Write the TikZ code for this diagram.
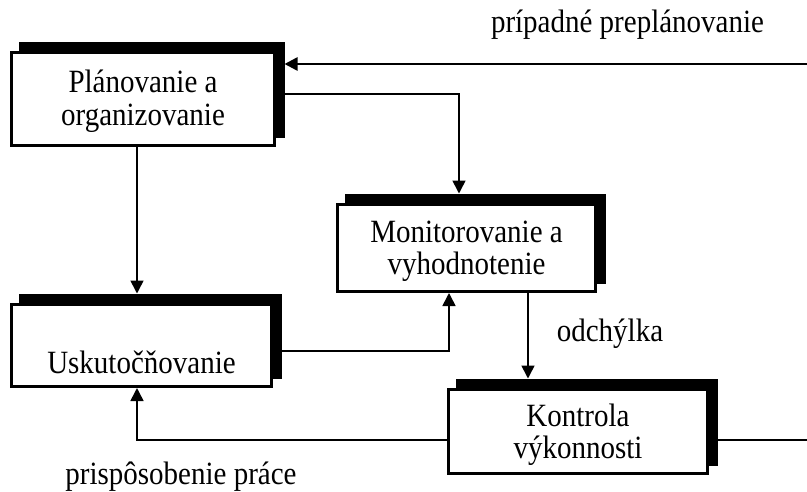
\documentclass[tikz,border=0pt]{standalone}
\usepackage{graphicx}
\usepackage{fontspec}
\setmainfont{Liberation Serif}
\usetikzlibrary{arrows.meta,shadows}
\newcommand{\vst}[1]{\strut\scalebox{1}[1.12]{#1}}
\begin{document}
\begin{tikzpicture}[x=1pt,y=-1pt,
  box/.style={draw, line width=3pt, fill=white, inner sep=0pt, outer sep=0pt,
    drop shadow={shadow xshift=8.5pt, shadow yshift=9.5pt, fill=black, draw=black, line width=3pt, opacity=1}},
  lbl/.style={font=\fontsize{29}{32.5}\selectfont, align=center, inner sep=0pt},
  con/.style={line width=1.6pt},
  thick con/.style={line width=2.5pt},
  arr/.style={con, -{Triangle[length=13pt,width=13pt]}}]
\useasboundingbox (0,0) rectangle (807,491);

% boxes
\node[box, minimum width=263pt, minimum height=93pt] (b1) at (143,99) {};
\node[box, minimum width=258pt, minimum height=87pt] (b2) at (466.5,248) {};
\node[box, minimum width=260pt, minimum height=82pt] (b3) at (141.5,345.5) {};
\node[box, minimum width=259pt, minimum height=84pt] (b4) at (578,431.5) {};

% texts in boxes
\node[lbl] (t1) at ([yshift=-3.5pt]b1.center) {\vst{Plánovanie a}\\\vst{organizovanie}};
\node[lbl] (t2) at ([yshift=-4pt]b2.center) {\vst{Monitorovanie a}\\\vst{vyhodnotenie}};
\node[lbl] (t3) at ([yshift=-21pt]b3.center) {\vst{Uskutočňovanie}};
\node[lbl] (t4) at ([yshift=-4.5pt]b4.center) {\vst{Kontrola}\\\vst{výkonnosti}};

% free labels
\node[lbl] (l1) at (627.5,25.5) {\vst{prípadné preplánovanie}};
\node[lbl] (l2) at (610,334.5) {\vst{odchýlka}};
\node[lbl] (l3) at (181,477.5) {\vst{prispôsobenie práce}};

% helper coordinates
\path ([xshift=10pt]b1.east) coordinate (b1r)
      ([yshift=11pt]b2.north) coordinate (b2top)
      ([xshift=10pt]b3.east) coordinate (b3r)
      ([yshift=11pt]b3.north) coordinate (b3top)
      ([xshift=10pt]b4.east) coordinate (b4r)
      ([yshift=11pt]b4.north) coordinate (b4top)
      ([yshift=-1.5pt]b2.south) coordinate (b2bot)
      ([yshift=-1.5pt]b3.south) coordinate (b3bot);
\coordinate (r1) at (807,64);
\coordinate (r2) at (807,440);
\coordinate (k1) at (459,94);
\coordinate (k2) at (137,440);
\coordinate (k3) at (449,351);
\coordinate (k4) at (528,0);

% connectors
\draw[arr, thick con] (r1) -- (b1r |- r1);
\draw[thick con] (b4r |- r2) -- (r2);
\draw[arr] (b1r |- k1) -| (b2top -| k1);
\draw[arr] (b1.south -| k2) -- (b3top -| k2);
\draw[arr] (b3r |- k3) -| (b2bot -| k3);
\draw[arr] (b2.south -| k4) -- (b4top -| k4);
\draw[arr] (b4.west |- k2) -| (b3bot -| k2);
\end{tikzpicture}
\end{document}
